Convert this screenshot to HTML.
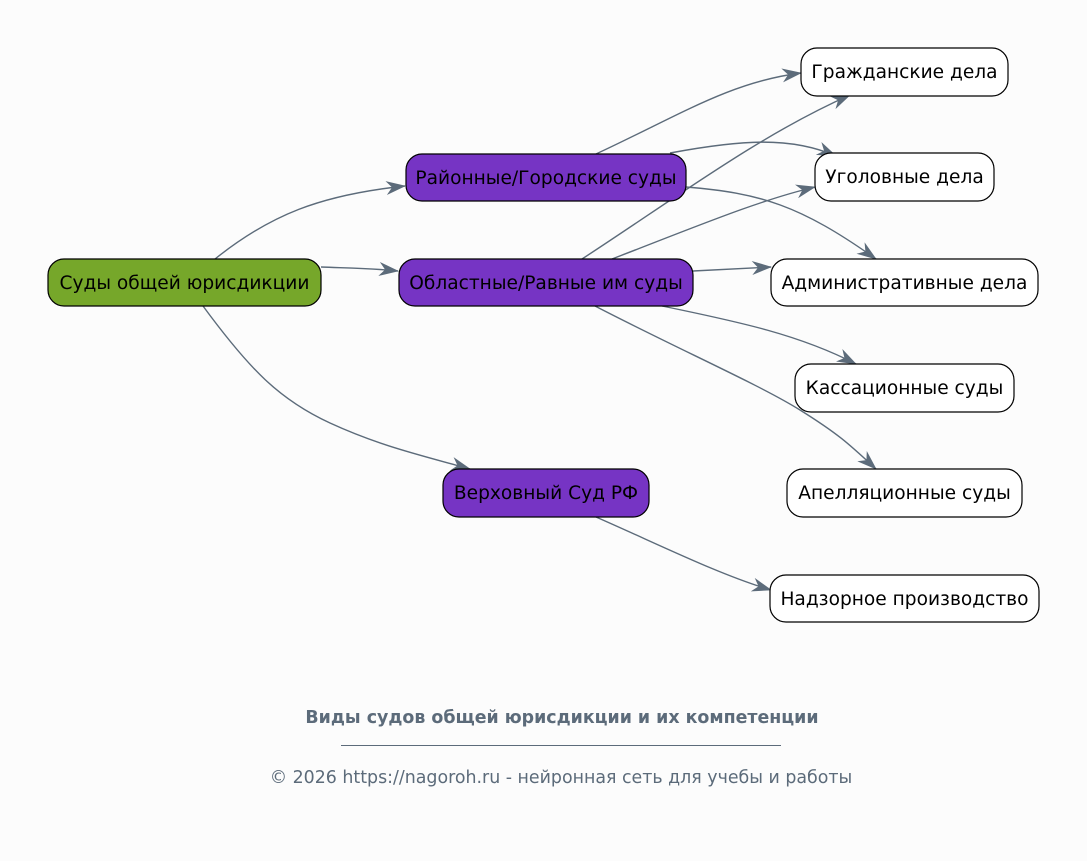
<!DOCTYPE html>
<html><head><meta charset="utf-8"><style>
html,body{margin:0;padding:0;background:#fcfcfc;}
svg{display:block;font-family:"DejaVu Sans","Liberation Sans",sans-serif;}
</style></head><body>
<svg width="1087" height="861" viewBox="0 0 1087 861">
<defs>
<marker id="a" viewBox="0 0 20 14" refX="19" refY="7" markerWidth="20" markerHeight="14" markerUnits="userSpaceOnUse" orient="auto">
<path d="M0,0 L20,7 L0,14 L6,7 Z" fill="#5c6b7a"/>
</marker>
</defs>
<rect width="1087" height="861" fill="#fcfcfc"/>
<g fill="none" stroke="#5c6b7a" stroke-width="1.4" marker-end="url(#a)">
<path d="M215,259 C270,215 320,195 405,186"/>
<path d="M321,267 C345,268 370,268 398,271"/>
<path d="M203,306 C250,370 280,400 330,423 S420,455 470,469"/>
<path d="M596,154 C680,115 730,82 801,73"/>
<path d="M670,153 C740,140 790,136 836,156"/>
<path d="M686,187 C760,193 800,205 876,259"/>
<path d="M582,259 C680,195 760,135 850,95"/>
<path d="M612,259 C700,225 760,200 815,187"/>
<path d="M693,271 L771,267"/>
<path d="M662,306 C740,322 800,335 856,364"/>
<path d="M595,306 C680,350 760,385 800,410 S850,445 876,469"/>
<path d="M596,517 C660,545 720,575 771,590"/>
</g>
<g stroke="#000" stroke-width="1.2" font-size="18.6" text-anchor="middle">
<rect x="48" y="259" width="273" height="47" rx="16" fill="#76a72a"/>
<rect x="406" y="154" width="280" height="47" rx="16" fill="#7634c4"/>
<rect x="399" y="259" width="294" height="47" rx="16" fill="#7634c4"/>
<rect x="443" y="469" width="206" height="48" rx="16" fill="#7634c4"/>
<rect x="801" y="48" width="207" height="48" rx="16" fill="#fff"/>
<rect x="815" y="153" width="179" height="48" rx="16" fill="#fff"/>
<rect x="771" y="259" width="267" height="47" rx="16" fill="#fff"/>
<rect x="795" y="364" width="219" height="48" rx="16" fill="#fff"/>
<rect x="787" y="469" width="235" height="48" rx="16" fill="#fff"/>
<rect x="770" y="575" width="269" height="47" rx="16" fill="#fff"/>
<g stroke="none" fill="#000">
<text x="184.5" y="289">Суды общей юрисдикции</text>
<text x="546" y="184">Районные/Городские суды</text>
<text x="546" y="289">Областные/Равные им суды</text>
<text x="546" y="499">Верховный Суд РФ</text>
<text x="904.5" y="78">Гражданские дела</text>
<text x="904.5" y="183">Уголовные дела</text>
<text x="904.5" y="289">Административные дела</text>
<text x="904.5" y="394">Кассационные суды</text>
<text x="904.5" y="499">Апелляционные суды</text>
<text x="904.5" y="605">Надзорное производство</text>
</g>
</g>
<text x="562" y="723" font-size="17.4" font-weight="bold" fill="#5c6b7a" text-anchor="middle">Виды судов общей юрисдикции и их компетенции</text>
<line x1="341" y1="745.5" x2="781" y2="745.5" stroke="#5c6b7a" stroke-width="1"/>
<text x="561" y="783" font-size="17.4" fill="#5c6b7a" text-anchor="middle">© 2026 https://nagoroh.ru - нейронная сеть для учебы и работы</text>
</svg>
</body></html>
